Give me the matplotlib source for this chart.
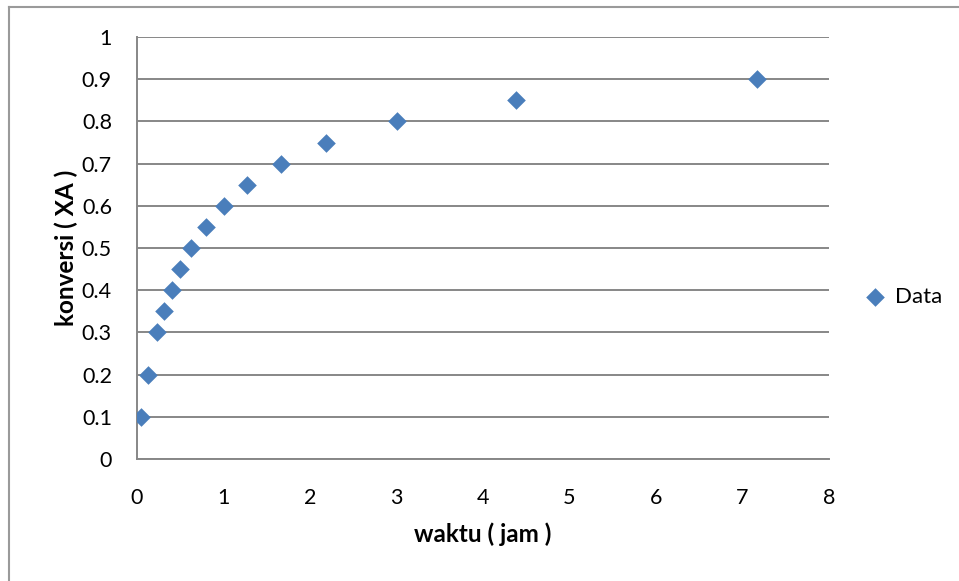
import matplotlib.pyplot as plt
from matplotlib.lines import Line2D

# conversion vs. time readings
waktu = [0.05, 0.13, 0.23, 0.31, 0.40, 0.50, 0.63, 0.80, 1.00, 1.27,
         1.66, 2.19, 3.00, 4.38, 7.17]
konversi = [0.10, 0.20, 0.30, 0.35, 0.40, 0.45, 0.50, 0.55, 0.60, 0.65,
            0.70, 0.75, 0.80, 0.85, 0.90]

x_ticks = [0, 1, 2, 3, 4, 5, 6, 7, 8]
y_ticks = [0, 0.1, 0.2, 0.3, 0.4, 0.5, 0.6, 0.7, 0.8, 0.9, 1]
y_labels = ['0', '0.1', '0.2', '0.3', '0.4', '0.5', '0.6', '0.7', '0.8', '0.9', '1']

plt.rcParams['font.family'] = ['Lato', 'DejaVu Sans']

blue = '#4a7ebb'
grey = '#878787'

fig = plt.figure(figsize=(9.59, 5.81), dpi=100)
ax = fig.add_axes([137 / 959, 1 - 459 / 581, (829 - 137) / 959, (459 - 37) / 581])

ax.scatter(waktu, konversi, marker='D', s=90, color=blue, zorder=3,
           linewidths=0, label='Data')

ax.set_xlim(0, 8)
ax.set_ylim(0, 1)
ax.set_xticks(x_ticks)
ax.set_yticks(y_ticks)
ax.set_yticklabels(y_labels)
ax.tick_params(axis='both', length=0, labelsize=15.5)
ax.tick_params(axis='x', pad=21)
ax.tick_params(axis='y', pad=18)
ax.grid(axis='y', color=grey, linewidth=1.4)
ax.set_axisbelow(True)

for side in ['top', 'right']:
    ax.spines[side].set_visible(False)
for side in ['left', 'bottom']:
    ax.spines[side].set_color(grey)
    ax.spines[side].set_linewidth(1.4)

ax.set_xlabel('waktu ( jam )', fontsize=17.5, fontweight='bold', labelpad=10)
ax.set_ylabel('konversi ( XA )', fontsize=17.5, fontweight='bold', labelpad=3)

fig.legend(loc='center left', bbox_to_anchor=(864 / 959, 1 - 297 / 581),
           frameon=False, fontsize=16, handlelength=1.0, handletextpad=0.4,
           borderpad=0, borderaxespad=0)

# outer chart frame (top and left edges)
fig.add_artist(Line2D([9 / 959, 1], [1 - 7 / 581, 1 - 7 / 581],
                      transform=fig.transFigure, color='#9a9a9a', linewidth=1.5))
fig.add_artist(Line2D([9 / 959, 9 / 959], [0, 1 - 7 / 581],
                      transform=fig.transFigure, color='#9a9a9a', linewidth=1.5))

fig.savefig('out.png', dpi=100)
